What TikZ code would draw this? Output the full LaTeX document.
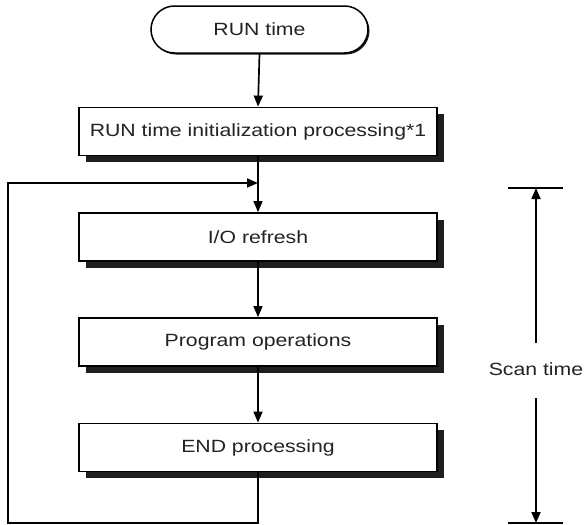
\documentclass[tikz,border=0pt]{standalone}
\usepackage{fontspec}
\setmainfont{Liberation Sans}[FakeStretch=1.2]
\usetikzlibrary{arrows.meta,shadows}
\definecolor{txt}{HTML}{232323}
\definecolor{shd}{HTML}{1E1E1E}
\begin{document}
\begin{tikzpicture}[x=1pt,y=-1pt,
  lbl/.style={text=txt, font=\fontsize{17.7}{20}\selectfont},
  procbox/.style={lbl, draw, line width=1.8pt, fill=white, minimum width=358pt, minimum height=48pt, inner sep=0pt,
    drop shadow={shadow xshift=6.5pt, shadow yshift=-6.5pt, opacity=1, fill=shd}},
  termbox/.style={lbl, draw, line width=1.5pt, fill=white, rounded corners=23.5pt, minimum width=217pt, minimum height=47pt, inner sep=0pt,
    drop shadow={shadow xshift=1.5pt, shadow yshift=-1.5pt, opacity=1, fill=shd}},
  conn/.style={line width=1.7pt, -{Triangle[length=11pt,width=9pt]}},
  plain/.style={line width=1.7pt}]
\useasboundingbox (0,0) rectangle (584,525);

\node[termbox] (run) at (259.5,29.5) {RUN time};
\node[procbox] (init) at (258,131.5) {RUN time initialization processing*1};
\node[procbox] (io) at (258,237) {I/O refresh};
\node[procbox] (prog) at (258,342) {Program operations};
\node[procbox] (endp) at (258,447.5) {END processing};

\draw[conn] (run.south) -- (init.north);
\draw[conn] (init.south) -- (io.north);
\draw[conn] (io.south) -- (prog.north);
\draw[conn] (prog.south) -- (endp.north);

\coordinate (lb) at (8,523);
\coordinate (jn) at (258,183);
\draw[conn] (endp.south) |- (lb) |- (jn);

% scan time
\node[lbl] (scan) at (536,369) {Scan time};
\coordinate (tl) at (508,188);
\coordinate (tr) at (563,188);
\coordinate (bl) at (508,523);
\coordinate (br) at (563,523);
\coordinate (st) at (536,188);
\coordinate (sb) at (536,523);
\coordinate (sa) at (536,343);
\coordinate (sc) at (536,398);
\draw[plain] (tl) -- (tr);
\draw[plain] (bl) -- (br);
\draw[conn] (sa) -- (st);
\draw[conn] (sc) -- (sb);
\end{tikzpicture}
\end{document}
